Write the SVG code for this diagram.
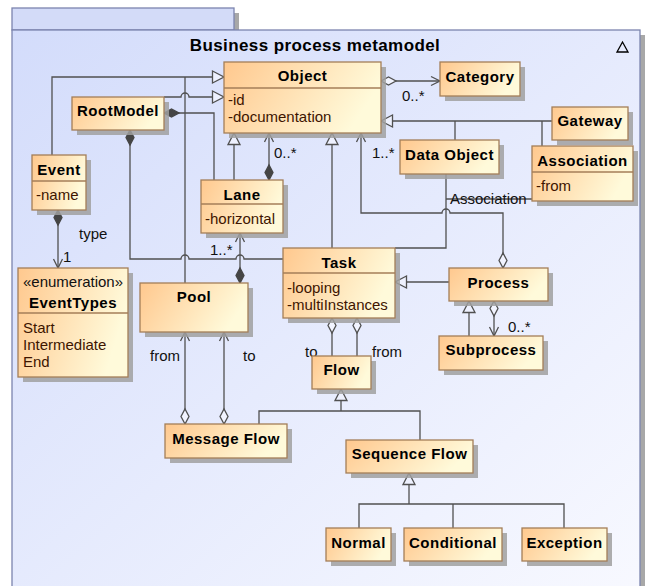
<svg xmlns="http://www.w3.org/2000/svg" width="645" height="586" viewBox="0 0 645 586">
<defs>
<linearGradient id="frameG" x1="0" y1="0" x2="1" y2="1">
<stop offset="0" stop-color="#D3DCFB"/>
<stop offset="1" stop-color="#F8F9FF"/>
</linearGradient>
<linearGradient id="boxG" x1="0" y1="0" x2="1" y2="0.3">
<stop offset="0" stop-color="#FFC88E"/>
<stop offset="1" stop-color="#FFFADA"/>
</linearGradient>
<marker id="gen" markerWidth="14" markerHeight="14" refX="12" refY="6.5" orient="auto" markerUnits="userSpaceOnUse" overflow="visible">
<path d="M0.5,0.5 L12,6.5 L0.5,12.5 Z" fill="#EEF1FE" stroke="#505050" stroke-width="1.3"/>
</marker>
<marker id="arr" markerWidth="10" markerHeight="10" refX="9" refY="5" orient="auto" markerUnits="userSpaceOnUse" overflow="visible">
<path d="M0,0.5 L9,5 L0,9.5" fill="none" stroke="#505050" stroke-width="1.3"/>
</marker>
<marker id="dia" markerWidth="16" markerHeight="10" refX="0" refY="4.5" orient="auto" markerUnits="userSpaceOnUse" overflow="visible">
<path d="M0,4.5 L7.5,0.5 L15,4.5 L7.5,8.5 Z" fill="#F2F4FF" stroke="#505050" stroke-width="1.3"/>
</marker>
<marker id="fdia" markerWidth="16" markerHeight="10" refX="0" refY="4.5" orient="auto" markerUnits="userSpaceOnUse" overflow="visible">
<path d="M0,4.5 L7.5,0.5 L15,4.5 L7.5,8.5 Z" fill="#454545" stroke="#454545" stroke-width="1.3"/>
</marker>
</defs>
<style>
.box{fill:url(#boxG);stroke:#A47E58;stroke-width:1.3}
.sh{fill:#A0A0A0;opacity:0.85}
.div{stroke:#A47E58;stroke-width:1.3}
.n{font-family:"Liberation Sans",Arial,sans-serif;font-weight:bold;font-size:15px;letter-spacing:0.5px;fill:#000;text-anchor:middle}
.a{font-family:"Liberation Sans",Arial,sans-serif;font-size:15px;fill:#3E1500}
.l{font-family:"Liberation Sans",Arial,sans-serif;font-size:15px;fill:#111}
.c{fill:none;stroke:#505050;stroke-width:1.3}
</style>

<g id="frame">
<rect x="234" y="13" width="5" height="17" fill="#A8A8A8"/>
<rect x="640" y="35" width="5" height="560" fill="#A8A8A8"/>
<rect x="12" y="8" width="222" height="22" fill="#D3DBF8" stroke="#7C84AE" stroke-width="1.3"/>
<rect x="12" y="30" width="628" height="570" fill="url(#frameG)" stroke="#7C84AE" stroke-width="1.3"/>
<text x="315" y="51" font-family="Liberation Sans, Arial, sans-serif" font-weight="bold" font-size="17" letter-spacing="0.4" text-anchor="middle" fill="#000">Business process metamodel</text>
<polygon points="617,52 622.5,42 628,52" fill="none" stroke="#000" stroke-width="1.3"/>
</g>

<g id="connectors">
<path class="c" d="M52,155 V77 H224" marker-end="url(#gen)"/>
<path class="c" d="M185,283 V77"/>
<path class="c" d="M164,97 H181 A4,4 0 0 1 189,97 H224" marker-end="url(#gen)"/>
<path class="c" d="M164,113 H214 V180" marker-start="url(#fdia)"/>
<path class="c" d="M234,180 V133" marker-end="url(#gen)"/>
<path class="c" d="M269,180 V133" marker-start="url(#fdia)" marker-end="url(#arr)"/>
<path class="c" d="M332,248 V133" marker-end="url(#gen)"/>
<path class="c" d="M503,268 V213 H450 A4,4 0 0 0 442,213 H361 V133" marker-start="url(#dia)" marker-end="url(#arr)"/>
<path class="c" d="M446,174 V248 H395"/>
<path class="c" d="M446,199 H532"/>
<path class="c" d="M552,121 H381" marker-end="url(#gen)"/>
<path class="c" d="M455,140 V121"/>
<path class="c" d="M542,146 V121"/>
<path class="c" d="M381,81 H440" marker-start="url(#dia)" marker-end="url(#arr)"/>
<path class="c" d="M130,130 V259 H181 A4,4 0 0 1 189,259 H236 A4,4 0 0 1 244,259 H283" marker-start="url(#fdia)"/>
<path class="c" d="M240,283 V233" marker-start="url(#fdia)" marker-end="url(#arr)"/>
<path class="c" d="M58,210 V268" marker-start="url(#fdia)" marker-end="url(#arr)"/>
<path class="c" d="M449,282 H395" marker-end="url(#gen)"/>
<path class="c" d="M469,336 V301" marker-end="url(#gen)"/>
<path class="c" d="M494,301 V336" marker-start="url(#dia)" marker-end="url(#arr)"/>
<path class="c" d="M332,318 V356" marker-start="url(#dia)"/>
<path class="c" d="M357,318 V356" marker-start="url(#dia)"/>
<path class="c" d="M185,424 V332" marker-start="url(#dia)" marker-end="url(#arr)"/>
<path class="c" d="M224,424 V332" marker-start="url(#dia)" marker-end="url(#arr)"/>
<path class="c" d="M259,424 V411 H420 V440"/>
<path class="c" d="M341,411 V389" marker-end="url(#gen)"/>
<path class="c" d="M359,528 V504 H564 V528"/>
<path class="c" d="M453,504 V528"/>
<path class="c" d="M409,504 V473" marker-end="url(#gen)"/>
<text class="l" x="402" y="101">0..*</text>
<text class="l" x="274" y="158">0..*</text>
<text class="l" x="372" y="158">1..*</text>
<text class="l" x="450" y="204">Association</text>
<text class="l" x="210" y="255">1..*</text>
<text class="l" x="79" y="239">type</text>
<text class="l" x="63" y="262">1</text>
<text class="l" x="508" y="332">0..*</text>
<text class="l" x="305" y="357">to</text>
<text class="l" x="372" y="357">from</text>
<text class="l" x="150" y="361">from</text>
<text class="l" x="243" y="361">to</text>
</g>

<g id="Object">
<rect class="sh" x="229" y="67" width="157" height="71"/>
<rect class="box" x="224" y="62" width="157" height="71"/>
<line class="div" x1="224" y1="88" x2="381" y2="88"/>
<text class="n" x="302.5" y="81">Object</text>
<text class="a" x="228" y="105">-id</text>
<text class="a" x="228" y="122">-documentation</text>
</g>

<g id="Category">
<rect class="sh" x="445" y="67" width="80" height="34"/>
<rect class="box" x="440" y="62" width="80" height="34"/>
<text class="n" x="480" y="82">Category</text>
</g>

<g id="Gateway">
<rect class="sh" x="557" y="112" width="76" height="33"/>
<rect class="box" x="552" y="107" width="76" height="33"/>
<text class="n" x="590" y="126">Gateway</text>
</g>

<g id="Association">
<rect class="sh" x="537" y="151" width="101" height="55"/>
<rect class="box" x="532" y="146" width="101" height="55"/>
<line class="div" x1="532" y1="172" x2="633" y2="172"/>
<text class="n" x="582.5" y="166">Association</text>
<text class="a" x="536" y="191">-from</text>
</g>

<g id="DataObject">
<rect class="sh" x="405" y="145" width="99" height="34"/>
<rect class="box" x="400" y="140" width="99" height="34"/>
<text class="n" x="449.5" y="160">Data Object</text>
</g>

<g id="RootModel">
<rect class="sh" x="77" y="102" width="92" height="33"/>
<rect class="box" x="72" y="97" width="92" height="33"/>
<text class="n" x="118" y="116">RootModel</text>
</g>

<g id="Event">
<rect class="sh" x="37" y="160" width="54" height="55"/>
<rect class="box" x="32" y="155" width="54" height="55"/>
<line class="div" x1="32" y1="181" x2="86" y2="181"/>
<text class="n" x="59" y="175">Event</text>
<text class="a" x="36" y="200">-name</text>
</g>

<g id="Lane">
<rect class="sh" x="206" y="185" width="82" height="53"/>
<rect class="box" x="201" y="180" width="82" height="53"/>
<line class="div" x1="201" y1="204" x2="283" y2="204"/>
<text class="n" x="242" y="200">Lane</text>
<text class="a" x="205" y="224">-horizontal</text>
</g>

<g id="EventTypes">
<rect class="sh" x="23" y="273" width="110" height="109"/>
<rect class="box" x="18" y="268" width="110" height="109"/>
<line class="div" x1="18" y1="313" x2="128" y2="313"/>
<text class="l" x="73" y="287" text-anchor="middle">«enumeration»</text>
<text class="n" x="73" y="308">EventTypes</text>
<text class="a" x="23" y="333">Start</text>
<text class="a" x="23" y="350">Intermediate</text>
<text class="a" x="23" y="367">End</text>
</g>

<g id="Pool">
<rect class="sh" x="145" y="288" width="108" height="49"/>
<rect class="box" x="140" y="283" width="108" height="49"/>
<text class="n" x="194" y="302">Pool</text>
</g>

<g id="Task">
<rect class="sh" x="288" y="253" width="112" height="70"/>
<rect class="box" x="283" y="248" width="112" height="70"/>
<line class="div" x1="283" y1="273" x2="395" y2="273"/>
<text class="n" x="339" y="268">Task</text>
<text class="a" x="287" y="293">-looping</text>
<text class="a" x="287" y="310">-multiInstances</text>
</g>

<g id="Process">
<rect class="sh" x="454" y="273" width="99" height="33"/>
<rect class="box" x="449" y="268" width="99" height="33"/>
<text class="n" x="498.5" y="288">Process</text>
</g>

<g id="Subprocess">
<rect class="sh" x="444" y="341" width="104" height="34"/>
<rect class="box" x="439" y="336" width="104" height="34"/>
<text class="n" x="491" y="355">Subprocess</text>
</g>

<g id="Flow">
<rect class="sh" x="317" y="361" width="59" height="33"/>
<rect class="box" x="312" y="356" width="59" height="33"/>
<text class="n" x="341.5" y="375">Flow</text>
</g>

<g id="MessageFlow">
<rect class="sh" x="170" y="429" width="122" height="34"/>
<rect class="box" x="165" y="424" width="122" height="34"/>
<text class="n" x="226" y="444">Message Flow</text>
</g>

<g id="SequenceFlow">
<rect class="sh" x="351" y="445" width="127" height="33"/>
<rect class="box" x="346" y="440" width="127" height="33"/>
<text class="n" x="409.5" y="459">Sequence Flow</text>
</g>

<g id="Normal">
<rect class="sh" x="331" y="533" width="65" height="33"/>
<rect class="box" x="326" y="528" width="65" height="33"/>
<text class="n" x="358.5" y="548">Normal</text>
</g>

<g id="Conditional">
<rect class="sh" x="409" y="533" width="98" height="33"/>
<rect class="box" x="404" y="528" width="98" height="33"/>
<text class="n" x="453" y="548">Conditional</text>
</g>

<g id="Exception">
<rect class="sh" x="527" y="533" width="85" height="33"/>
<rect class="box" x="522" y="528" width="85" height="33"/>
<text class="n" x="564.5" y="548">Exception</text>
</g>
</svg>
